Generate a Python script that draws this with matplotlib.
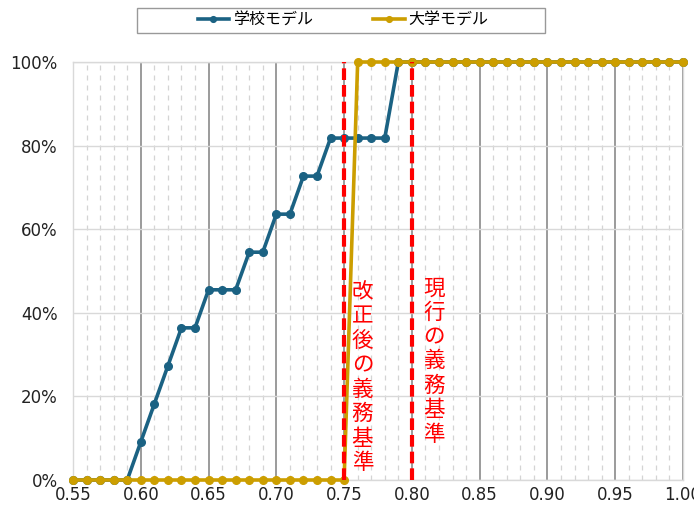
import matplotlib.pyplot as plt
from matplotlib.patches import Rectangle
from matplotlib.ticker import MultipleLocator, FuncFormatter

plt.rcParams['font.family'] = ['Noto Sans CJK JP', 'DejaVu Sans']

# ------------------------------------------------------------
# data
# ------------------------------------------------------------
x = [round(0.55 + 0.01 * i, 2) for i in range(46)]

school = [0, 0, 0, 0, 0,
          9.1, 18.2, 27.3, 36.4, 36.4,
          45.5, 45.5, 45.5, 54.5, 54.5,
          63.6, 63.6, 72.7, 72.7, 81.8,
          81.8, 81.8, 81.8, 81.8, 100] + [100] * 21

univ = [0] * 21 + [100] * 25

current_std = 0.80
revised_std = 0.75

blue = "#1B6283"
gold = "#CC9E00"

# ------------------------------------------------------------
# figure
# ------------------------------------------------------------
fig = plt.figure(figsize=(6.94, 5.05), dpi=100)
ax = fig.add_axes([73 / 694, 25 / 505, 610 / 694, 418 / 505])

ax.set_xlim(0.55, 1.00)
ax.set_ylim(0, 100)

# grid
ax.xaxis.set_major_locator(MultipleLocator(0.05))
ax.xaxis.set_minor_locator(MultipleLocator(0.01))
ax.yaxis.set_major_locator(MultipleLocator(20))
ax.grid(which="minor", axis="x", color="#d4d4d4", linestyle=(0, (4, 4)), linewidth=0.9)
ax.grid(which="major", axis="x", color="#8a8a8a", linestyle="-", linewidth=1.2)
ax.grid(which="major", axis="y", color="#d9d9d9", linestyle="-", linewidth=1.0)
ax.set_axisbelow(True)

for s in ax.spines.values():
    s.set_color("#d9d9d9")
    s.set_linewidth(1.0)

ax.tick_params(which="both", length=0)
ax.tick_params(axis="both", labelsize=12, colors="#222222")
ax.tick_params(axis="y", pad=11)
ax.tick_params(axis="x", pad=4)
for lab in ax.get_xticklabels() + ax.get_yticklabels():
    lab.set_family("DejaVu Sans")
ax.xaxis.set_major_formatter(FuncFormatter(lambda v, p: f"{v:.2f}"))
ax.yaxis.set_major_formatter(FuncFormatter(lambda v, p: f"{v:.0f}%"))

# series
ax.plot(x, school, color=blue, linewidth=2.6, marker="o", markersize=5.5,
        label="学校モデル", zorder=3, clip_on=False)
ax.plot(x, univ, color=gold, linewidth=2.6, marker="o", markersize=5.5,
        label="大学モデル", zorder=4, clip_on=False)

# standards
for v in (revised_std, current_std):
    ax.plot([v, v], [0, 100], color="#ff0000", linewidth=3.0,
            linestyle=(0, (2.8, 1.2)), zorder=5)

ax.text(0.7635, 47.5, "\n".join("改正後の義務基準"), color="#ff0000", fontsize=15.5,
        ha="center", va="top", linespacing=1.14, zorder=6)
ax.text(0.8165, 48.5, "\n".join("現行の義務基準"), color="#ff0000", fontsize=15.5,
        ha="center", va="top", linespacing=1.14, zorder=6)

# legend, framed by a separate box
leg = fig.legend(loc="center", bbox_to_anchor=(343 / 694, 1 - 20 / 505), ncol=2,
                 fontsize=11.5, frameon=False,
                 handlelength=2.0, columnspacing=3.8, handletextpad=0.2,
                 markerscale=0.75)
fig.add_artist(Rectangle((137 / 694, 1 - 33 / 505), 408 / 694, 25 / 505,
                         transform=fig.transFigure, fill=False,
                         edgecolor="#999999", linewidth=1.0))

fig.savefig("out.png", dpi=100)
